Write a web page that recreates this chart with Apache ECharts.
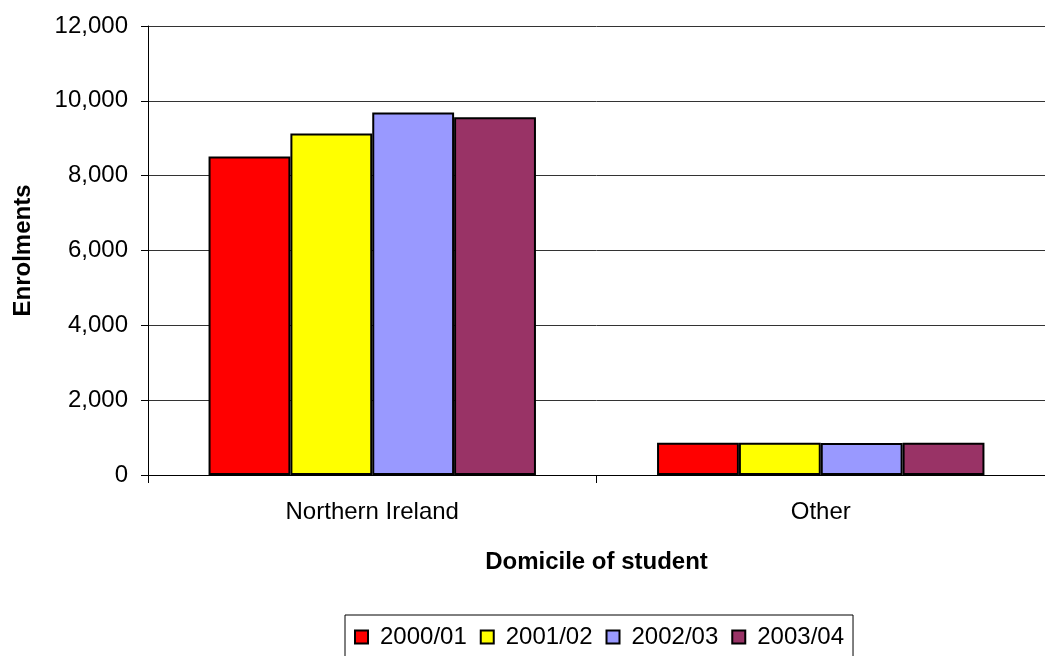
<!DOCTYPE html>
<html>
<head>
<meta charset="utf-8">
<script src="https://cdn.jsdelivr.net/npm/echarts@6/dist/echarts.min.js"></script>
<style>
    html, body { margin: 0; padding: 0; background: #fff; }
    #chart { width: 1045px; height: 656px; }
</style>
</head>
<body>
<div id="chart"></div>
<script>
// 数据
const categories = ['Northern Ireland', 'Other'];
const years = ['2000/01', '2001/02', '2002/03', '2003/04'];
const enrol0001 = [8510, 865];
const enrol0102 = [9130, 860];
const enrol0203 = [9690, 858];
const enrol0304 = [9560, 862];
const colors = ['#ff0000', '#ffff00', '#9999ff', '#993366'];

const font = "'Liberation Sans', Arial, sans-serif";

const initChart = () => {
    const chart = echarts.init(document.getElementById('chart'));
    const values = [enrol0001, enrol0102, enrol0203, enrol0304];
    const option = {
        animation: false,
        grid: {
            left: 148,
            top: 26,
            right: -11,
            bottom: 181
        },
        legend: {
            left: 345,
            top: 615,
            padding: [10, 9, 10, 9],
            itemWidth: 13,
            itemHeight: 13,
            itemGap: 13,
            icon: 'rect',
            borderColor: '#000',
            borderWidth: 1,
            textStyle: {
                fontFamily: font,
                fontSize: 24,
                color: '#000',
                padding: [0, 0, 0, 7]
            },
            data: years
        },
        xAxis: {
            type: 'category',
            data: categories,
            name: 'Domicile of student',
            nameLocation: 'middle',
            nameGap: 75,
            nameTextStyle: {
                fontFamily: font,
                fontSize: 24,
                fontWeight: 'bold',
                color: '#000'
            },
            axisLine: { lineStyle: { color: '#000', width: 1 } },
            axisTick: { show: true, length: 8, lineStyle: { color: '#000' } },
            axisLabel: {
                margin: 25,
                fontFamily: font,
                fontSize: 24,
                color: '#000'
            }
        },
        yAxis: {
            type: 'value',
            min: 0,
            max: 12000,
            interval: 2000,
            name: 'Enrolments',
            nameLocation: 'middle',
            nameGap: 113,
            nameTextStyle: {
                fontFamily: font,
                fontSize: 24,
                fontWeight: 'bold',
                color: '#000'
            },
            axisLine: { show: true, lineStyle: { color: '#000', width: 1 } },
            axisTick: { show: true, length: 7, lineStyle: { color: '#000' } },
            splitLine: { lineStyle: { color: '#333', width: 1 } },
            axisLabel: {
                margin: 20,
                fontFamily: font,
                fontSize: 24,
                color: '#000',
                formatter: v => v.toLocaleString('en-US')
            }
        },
        series: years.map((name, i) => ({
            name: name,
            type: 'bar',
            data: values[i],
            barGap: '0%',
            barCategoryGap: '27%',
            itemStyle: {
                color: colors[i],
                borderColor: '#000',
                borderWidth: 2
            }
        }))
    };
    chart.setOption(option);
};
initChart();
</script>
</body>
</html>
